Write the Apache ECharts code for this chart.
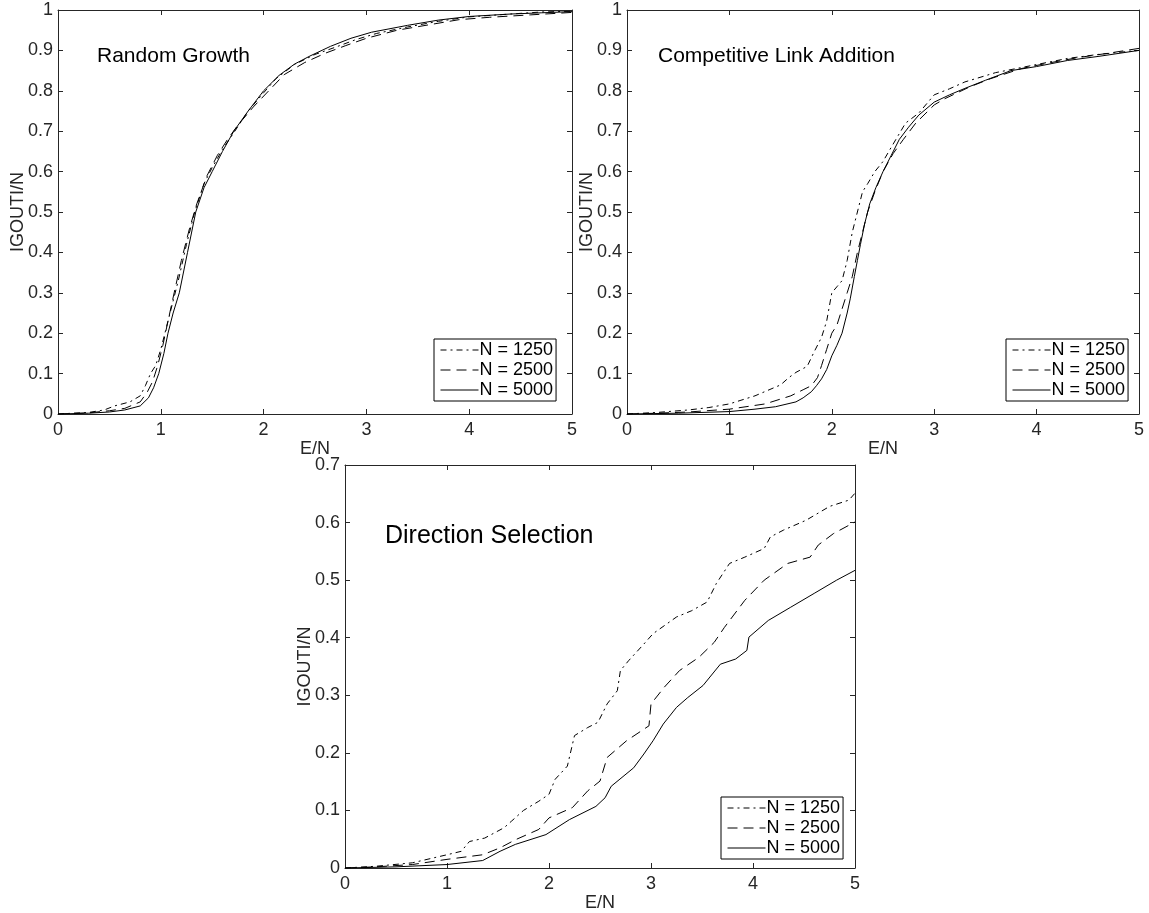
<!DOCTYPE html>
<html><head><meta charset="utf-8">
<script src="https://cdn.jsdelivr.net/npm/echarts@6/dist/echarts.min.js"></script>
<style>html,body{margin:0;padding:0;background:#fff}#c{width:1149px;height:913px}</style>
</head><body><div id="c"></div>
<script>
// ---- data ----
const seriesNames = ['N = 1250', 'N = 2500', 'N = 5000'];
const panelTitles = ['Random Growth', 'Competitive Link Addition', 'Direction Selection'];
const xTicks = [0, 1, 2, 3, 4, 5];

// Random Growth
const rgX1250 = [0,0.3,0.45,0.55,0.7,0.8,0.85,0.9,0.95,1.0,1.05,1.1,1.17,1.25,1.33,1.42,1.5,1.6,1.72,1.85,2.0,2.12,2.3,2.5,2.7,2.9,3.1,3.4,3.7,4.0,4.4,4.7,5.0];
const rgY1250 = [0,0.004,0.01,0.02,0.03,0.045,0.07,0.1,0.12,0.16,0.21,0.26,0.33,0.42,0.5,0.57,0.61,0.655,0.7,0.75,0.795,0.83,0.865,0.89,0.908,0.927,0.942,0.958,0.972,0.983,0.99,0.995,0.997];
const rgX2500 = [0,0.3,0.5,0.65,0.8,0.87,0.92,0.97,1.02,1.07,1.13,1.2,1.28,1.35,1.45,1.55,1.65,1.75,1.9,2.05,2.2,2.4,2.6,2.8,3.0,3.3,3.6,3.9,4.2,4.6,5.0];
const rgY2500 = [0,0.003,0.008,0.014,0.03,0.055,0.08,0.12,0.17,0.23,0.3,0.38,0.46,0.52,0.59,0.64,0.68,0.715,0.76,0.8,0.84,0.87,0.893,0.912,0.93,0.95,0.963,0.976,0.982,0.988,0.994];
const rgX5000 = [0,0.3,0.5,0.65,0.8,0.88,0.93,0.98,1.03,1.07,1.12,1.18,1.26,1.34,1.42,1.5,1.6,1.71,1.85,2.0,2.15,2.3,2.45,2.65,2.85,3.05,3.4,3.7,4.0,4.4,4.7,5.0];
const rgY5000 = [0,0.002,0.005,0.01,0.02,0.04,0.065,0.1,0.15,0.2,0.25,0.3,0.4,0.5,0.56,0.6,0.65,0.7,0.75,0.8,0.838,0.866,0.886,0.91,0.93,0.945,0.962,0.975,0.984,0.99,0.993,0.996];

// Competitive Link Addition
const claX1250 = [0,0.3,0.6,0.8,1.0,1.25,1.5,1.58,1.65,1.76,1.82,1.9,1.95,2.0,2.05,2.1,2.15,2.2,2.25,2.3,2.35,2.42,2.5,2.58,2.65,2.72,2.85,3.0,3.15,3.3,3.6,3.8,4.0,4.3,4.6,5.0];
const claY1250 = [0,0.004,0.01,0.016,0.025,0.045,0.072,0.09,0.103,0.118,0.15,0.19,0.23,0.3,0.315,0.33,0.38,0.45,0.5,0.55,0.57,0.6,0.625,0.66,0.69,0.72,0.745,0.79,0.805,0.822,0.845,0.855,0.865,0.88,0.89,0.9];
const claX2500 = [0,0.3,0.6,1.0,1.35,1.6,1.72,1.8,1.86,1.9,1.95,2.0,2.05,2.1,2.15,2.2,2.25,2.3,2.35,2.42,2.5,2.6,2.7,2.82,3.0,3.1,3.35,3.55,3.85,4.1,4.4,4.7,5.0];
const claY2500 = [0,0.002,0.005,0.012,0.025,0.045,0.06,0.07,0.09,0.12,0.16,0.2,0.22,0.26,0.3,0.34,0.4,0.45,0.5,0.55,0.6,0.645,0.68,0.72,0.765,0.78,0.81,0.83,0.855,0.868,0.882,0.893,0.905];
const claX5000 = [0,0.5,1.0,1.25,1.45,1.65,1.72,1.8,1.85,1.9,1.95,2.0,2.05,2.1,2.15,2.18,2.22,2.25,2.28,2.32,2.37,2.43,2.5,2.58,2.66,2.75,2.85,3.0,3.15,3.3,3.5,3.75,4.0,4.3,4.6,5.0];
const claY5000 = [0,0.002,0.006,0.012,0.018,0.03,0.04,0.055,0.07,0.087,0.11,0.144,0.17,0.2,0.25,0.285,0.34,0.38,0.42,0.47,0.52,0.56,0.6,0.64,0.68,0.71,0.74,0.772,0.79,0.806,0.826,0.85,0.86,0.875,0.885,0.9];

// Direction Selection
const dsX1250 = [0,0.3,0.66,1.0,1.14,1.22,1.37,1.56,1.63,1.75,1.9,2.0,2.06,2.18,2.25,2.38,2.48,2.57,2.67,2.7,2.78,2.93,3.02,3.25,3.4,3.55,3.64,3.77,3.92,4.11,4.17,4.3,4.52,4.75,4.94,5.0];
const dsY1250 = [0,0.003,0.009,0.023,0.029,0.046,0.052,0.07,0.081,0.1,0.116,0.128,0.154,0.177,0.23,0.244,0.253,0.285,0.308,0.343,0.36,0.389,0.407,0.436,0.447,0.462,0.494,0.529,0.54,0.555,0.575,0.587,0.604,0.628,0.639,0.651];
const dsX2500 = [0,0.3,0.66,1.0,1.35,1.52,1.67,1.9,2.0,2.23,2.38,2.5,2.57,2.76,2.98,3.0,3.13,3.28,3.47,3.62,3.72,3.92,4.11,4.34,4.56,4.64,4.79,5.0];
const dsY2500 = [0,0.002,0.006,0.015,0.023,0.035,0.049,0.067,0.087,0.105,0.134,0.151,0.192,0.221,0.247,0.285,0.314,0.343,0.366,0.392,0.418,0.465,0.5,0.529,0.54,0.561,0.581,0.601];
const dsX5000 = [0,0.5,1.0,1.35,1.52,1.67,1.97,2.2,2.46,2.55,2.61,2.83,2.93,3.02,3.12,3.25,3.36,3.51,3.68,3.83,3.94,3.96,4.15,4.37,4.6,4.82,5.0];
const dsY5000 = [0,0.002,0.006,0.013,0.029,0.041,0.058,0.084,0.107,0.122,0.142,0.174,0.198,0.221,0.25,0.279,0.296,0.317,0.354,0.363,0.378,0.401,0.43,0.453,0.477,0.5,0.517];

const yMax = [1, 1, 0.7];

// ---- build ----
const FONT = '"Liberation Sans", Arial, Helvetica, sans-serif';
const AX = '#262626';
const zip = (xs, ys) => xs.map((x, i) => [x, ys[i]]);
const panels = [
  [zip(rgX1250, rgY1250), zip(rgX2500, rgY2500), zip(rgX5000, rgY5000)],
  [zip(claX1250, claY1250), zip(claX2500, claY2500), zip(claX5000, claY5000)],
  [zip(dsX1250, dsY1250), zip(dsX2500, dsY2500), zip(dsX5000, dsY5000)]
];
const grids = [
  {left: 58, top: 10, width: 514, height: 404},
  {left: 627, top: 10, width: 512, height: 404},
  {left: 345, top: 465, width: 510, height: 403}
];
const dashes = [[6, 4, 2, 4], [10, 6], 'solid'];

const xAxis = [], yAxis = [], series = [], legend = [], title = [];
grids.forEach((g, i) => {
  const tick = {show: true, inside: true, length: 5, lineStyle: {color: AX, width: 1}};
  const line = {show: true, onZero: false, lineStyle: {color: AX, width: 1}};
  xAxis.push({type: 'value', gridIndex: i, position: 'bottom', min: xTicks[0], max: xTicks[xTicks.length - 1], interval: 1,
    axisLine: line, axisTick: tick, splitLine: {show: false},
    axisLabel: {color: AX, fontFamily: FONT, fontSize: 18, margin: 7},
    name: 'E/N', nameLocation: 'middle', nameGap: 26, nameMoveOverlap: false,
    nameTextStyle: {color: AX, fontFamily: FONT, fontSize: 18}});
  xAxis.push({type: 'value', gridIndex: i, position: 'top', min: 0, max: 5, interval: 1,
    axisLine: line, axisTick: tick, splitLine: {show: false}, axisLabel: {show: false}});
  yAxis.push({type: 'value', gridIndex: i, position: 'left', min: 0, max: yMax[i], interval: 0.1,
    axisLine: line, axisTick: tick, splitLine: {show: false},
    axisLabel: {color: AX, fontFamily: FONT, fontSize: 18, margin: 5},
    name: 'IGOUTI/N', nameLocation: 'middle', nameGap: 31, nameRotate: 90, nameMoveOverlap: false,
    nameTextStyle: {color: AX, fontFamily: FONT, fontSize: 18}});
  yAxis.push({type: 'value', gridIndex: i, position: 'right', min: 0, max: yMax[i], interval: 0.1,
    axisLine: line, axisTick: tick, splitLine: {show: false}, axisLabel: {show: false}});
  panels[i].forEach((d, k) => {
    series.push({type: 'line', name: seriesNames[k], xAxisIndex: i * 2, yAxisIndex: i * 2,
      data: d, showSymbol: false, symbol: 'none', animation: false, silent: true,
      lineStyle: {color: '#000', width: 1, type: dashes[k]}, itemStyle: {color: '#000'}});
  });
});

legend.push({left: 434, top: 339}, {left: 1006, top: 339}, {left: 721, top: 797});
legend.forEach(l => Object.assign(l, {
  data: seriesNames, orient: 'vertical', itemWidth: 38, itemHeight: 14, itemGap: 2,
  padding: [2, 3, 2, 6], borderColor: '#000', borderWidth: 1, backgroundColor: '#fff',
  selectedMode: false,
  itemStyle: {opacity: 0},
  lineStyle: {color: '#000', width: 1},
  textStyle: {color: '#000', fontFamily: FONT, fontSize: 18, padding: [0, 0, 0, -4]}
}));

title.push(
  {text: panelTitles[0], left: 92, top: 41},
  {text: panelTitles[1], left: 653, top: 41},
  {text: panelTitles[2], left: 380, top: 519}
);
title.forEach((t, i) => t.textStyle = {color: '#000', fontFamily: FONT, fontWeight: 'normal', fontSize: i === 2 ? 25 : 21});

const chart = echarts.init(document.getElementById('c'), null, {renderer: 'canvas'});
chart.setOption({animation: false, backgroundColor: '#fff', title, grid: grids, xAxis, yAxis, legend, series});
</script></body></html>
